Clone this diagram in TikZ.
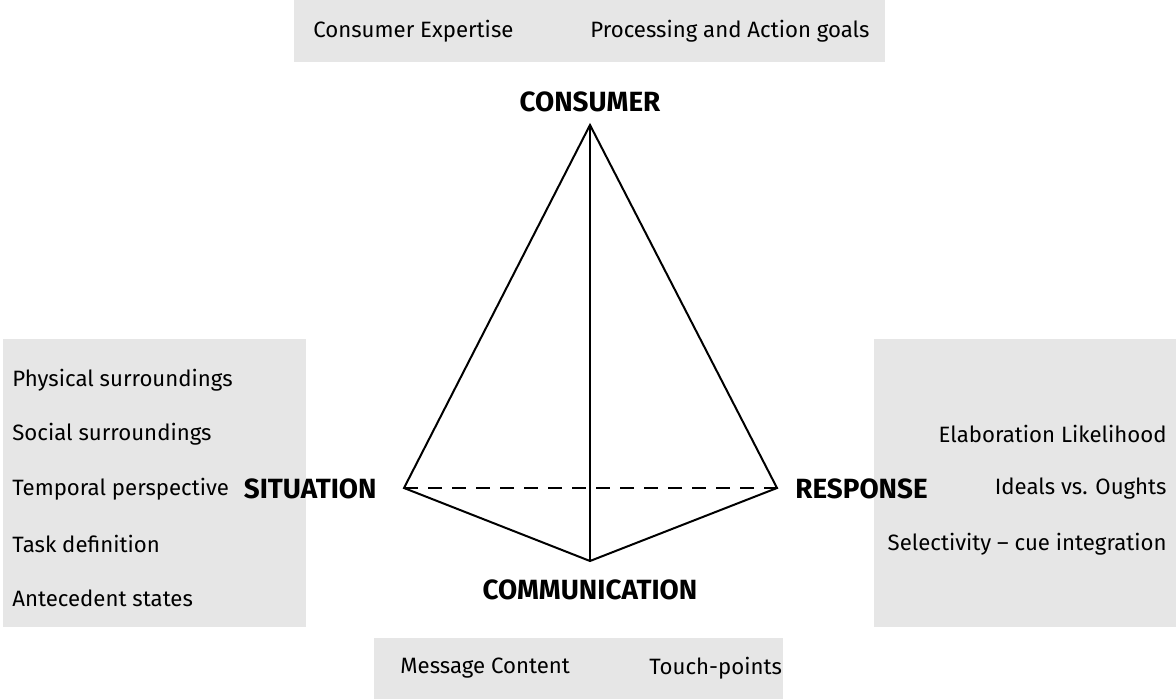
\documentclass[tikz,border=0pt]{standalone}
\usepackage{fontspec}
\setmainfont{Fira Sans}
\usepackage{xcolor}
\usepackage{tikz}
\usetikzlibrary{positioning,calc}
\definecolor{panelgray}{HTML}{E6E6E6}

\begin{document}
\begin{tikzpicture}[
    x=0.5pt, y=-0.5pt,
    panel/.style={rectangle, fill=panelgray, inner sep=0pt},
    item/.style={font=\fontsize{11.1}{13}\selectfont, inner sep=0pt},
    corner/.style={font=\fontsize{13.9}{16}\selectfont\bfseries, inner sep=0pt},
    edge/.style={line width=1pt, line join=miter}
]
\useasboundingbox (0,0) rectangle (1176,699);

% grey panels
\fill[panelgray] (294,0) rectangle (885,62);
\fill[panelgray] (3,339) rectangle (306,627);
\fill[panelgray] (874,339) rectangle (1176,627);
\fill[panelgray] (374,638) rectangle (783,699);

% pyramid corners
\coordinate (apex) at (590,125);
\coordinate (sit) at (404,488);
\coordinate (resp) at (777,488);
\coordinate (comm) at (590,561);

\node[corner] (consumer) at (590,102) {CONSUMER};
\node[corner, anchor=east] (situation) at (377,489) {SITUATION};
\node[corner, anchor=west] (response) at (795,489) {RESPONSE};
\node[corner] (communication) at (590,590) {COMMUNICATION};

% edges
\draw[edge] (apex) -- (sit) -- (comm) -- (resp) -- cycle;
\draw[edge] (apex) -- (comm);
\draw[edge, dashed, dash pattern=on 7pt off 5pt] (sit) -- (resp);

% consumer factors
\node[item, anchor=west] (expertise) at (313,31) {Consumer Expertise};
\node[item, anchor=west] (goals) at (590,31) {Processing and Action goals};

% situation factors
\node[item, anchor=west] (physical) at (12,380) {Physical surroundings};
\node[item, anchor=west] (social) at (12,434) {Social surroundings};
\node[item, anchor=west] (temporal) at (12,489) {Temporal perspective};
\node[item, anchor=west] (task) at (12,544) {Task definition};
\node[item, anchor=west] (antecedent) at (12,598) {Antecedent states};

% response factors
\node[item, anchor=east] (elaboration) at (1167,434) {Elaboration Likelihood};
\node[item, anchor=east] (ideals) at (1167,489) {Ideals vs. Oughts};
\node[item, anchor=east] (selectivity) at (1167,544) {Selectivity -- cue integration};

% communication factors
\node[item, anchor=west] (content) at (400,668) {Message Content};
\node[item, anchor=west] (touch) at (649,668) {Touch-points};
\end{tikzpicture}
\end{document}
